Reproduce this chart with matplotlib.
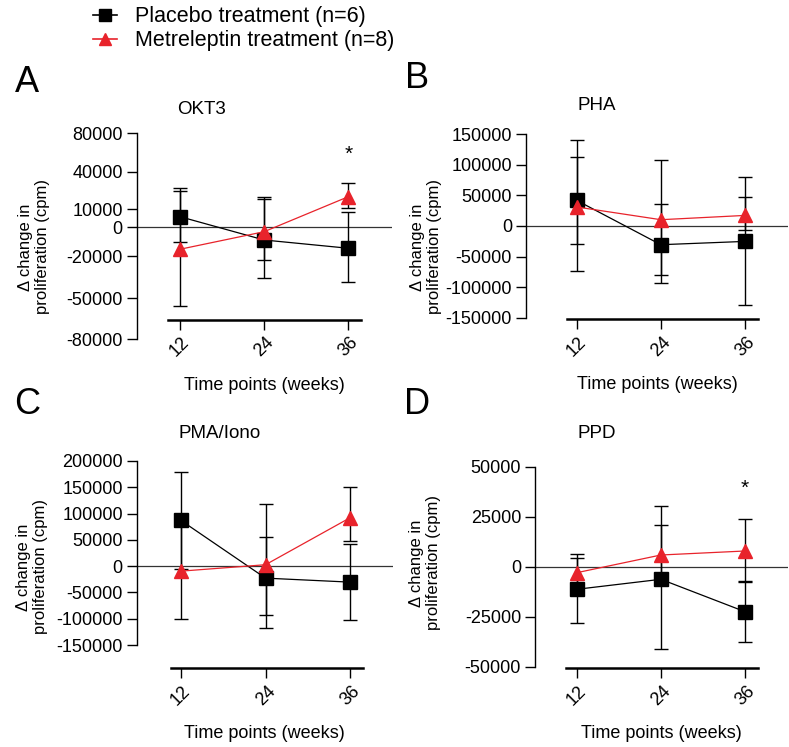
import numpy as np
import matplotlib
matplotlib.use('Agg')
import matplotlib.pyplot as plt
from matplotlib.lines import Line2D

plt.rcParams['font.family'] = ['Liberation Sans', 'DejaVu Sans']

W, H = 789, 747
RED = '#e8232b'

weeks = [12, 24, 36]

# A: OKT3
okt3_placebo = [5900, -8850, -14600]
okt3_placebo_lo = [-10000, -35800, -38200]
okt3_placebo_hi = [27200, 18200, 8700]
okt3_metre = [-15300, -3070, 20050]
okt3_metre_lo = [-55600, -22840, 10800]
okt3_metre_hi = [24600, 20050, 30700]
okt3_ticks = [-80000, -50000, -20000, 0, 10000, 40000, 80000]

# B: PHA
pha_placebo = [41900, -30600, -25200]
pha_placebo_lo = [-29000, -93300, -128800]
pha_placebo_hi = [112900, 35300, 80200]
pha_metre = [31100, 10300, 17300]
pha_metre_lo = [-74300, -80800, -7200]
pha_metre_hi = [140000, 107300, 47400]
pha_ticks = [-150000, -100000, -50000, 0, 50000, 100000, 150000]

# C: PMA/Iono
pma_placebo = [86900, -22800, -30400]
pma_placebo_lo = [-5100, -93800, -103300]
pma_placebo_hi = [178800, 55200, 41300]
pma_metre = [-9500, 2700, 92000]
pma_metre_lo = [-101400, -117900, 47500]
pma_metre_hi = [82400, 117300, 150300]
pma_ticks = [-150000, -100000, -50000, 0, 50000, 100000, 150000, 200000]

# D: PPD
ppd_placebo = [-11300, -6300, -22500]
ppd_placebo_lo = [-28000, -41300, -37500]
ppd_placebo_hi = [4500, 30300, -7000]
ppd_metre = [-3000, 5850, 7850]
ppd_metre_lo = [-12000, -9000, -7500]
ppd_metre_hi = [6200, 20700, 23700]
ppd_ticks = [-50000, -25000, 0, 25000, 50000]

# OKT3 axis in the original is segmented: tick values vs. their pixel offset from 0
okt3_tick_px = [-112.0, -71.0, -28.7, 0.0, 18.0, 55.6, 94.0]

fig = plt.figure(figsize=(W / 100, H / 100), dpi=100)


def make_axes(left, top, right, bottom):
    return fig.add_axes([left / W, 1 - bottom / H, (right - left) / W, (bottom - top) / H])


def draw_panel(ax, placebo, p_lo, p_hi, metre, m_lo, m_hi, ticks,
               xlim, xbounds, line_frac, star=None):
    for side in ['top', 'right']:
        ax.spines[side].set_visible(False)
    ax.spines['left'].set_linewidth(1.0)
    ax.spines['bottom'].set_linewidth(1.8)
    ax.spines['bottom'].set_position(('axes', line_frac))
    ax.spines['bottom'].set_bounds(*xbounds)
    ax.set_facecolor('none')

    ax.axhline(0, color='#333333', lw=0.9, zorder=1)

    p = np.array(placebo, float)
    m = np.array(metre, float)
    ax.errorbar(weeks, p, yerr=[p - np.array(p_lo), np.array(p_hi) - p], fmt='none',
                ecolor='black', elinewidth=1.0, capsize=5, capthick=1.0, zorder=2)
    ax.errorbar(weeks, m, yerr=[m - np.array(m_lo), np.array(m_hi) - m], fmt='none',
                ecolor='black', elinewidth=1.0, capsize=5, capthick=1.0, zorder=2)
    ax.plot(weeks, p, '-s', color='black', ms=9.5, lw=0.9, zorder=3)
    ax.plot(weeks, m, '-^', color=RED, mfc=RED, mec=RED, ms=10, lw=0.9, zorder=4)

    ax.set_xlim(*xlim)
    ax.set_ylim(ticks[0], ticks[-1])
    ax.set_yticks(ticks)
    ax.set_yticklabels([str(t) for t in ticks])
    ax.set_xticks(weeks)
    ax.set_xticklabels([str(w) for w in weeks], rotation=45, ha='center', va='top')
    ax.tick_params(axis='y', length=7, width=1.0, labelsize=13, pad=3)
    ax.tick_params(axis='x', length=7, width=1.0, labelsize=13, pad=3)
    ax.set_xlabel('Time points (weeks)', fontsize=13, labelpad=12)
    if star is not None:
        ax.text(36, star, '*', ha='center', va='center', fontsize=15)


def seg_fwd(v):
    return np.interp(v, okt3_ticks, okt3_tick_px)


def seg_inv(d):
    return np.interp(d, okt3_tick_px, okt3_ticks)


# panel A
axA = make_axes(136.7, 133.3, 392, 339.3)
axA.set_yscale('function', functions=(seg_fwd, seg_inv))
draw_panel(axA, okt3_placebo, okt3_placebo_lo, okt3_placebo_hi,
           okt3_metre, okt3_metre_lo, okt3_metre_hi, okt3_ticks,
           (5.83, 42.23), (10.29, 37.8), 19.3 / 206.0, star=58000)

# panel B
axB = make_axes(526, 134.3, 788, 317.7)
draw_panel(axB, pha_placebo, pha_placebo_lo, pha_placebo_hi,
           pha_metre, pha_metre_lo, pha_metre_hi, pha_ticks,
           (4.77, 42.13), (10.57, 37.9), -1.6 / 183.4)

# panel C
axC = make_axes(136.7, 461, 393, 645)
draw_panel(axC, pma_placebo, pma_placebo_lo, pma_placebo_hi,
           pma_metre, pma_metre_lo, pma_metre_hi, pma_ticks,
           (5.71, 42.1), (10.54, 37.8), -23.3 / 184.0)

# panel D
axD = make_axes(535, 466.7, 788, 666.7)
draw_panel(axD, ppd_placebo, ppd_placebo_lo, ppd_placebo_hi,
           ppd_metre, ppd_metre_lo, ppd_metre_hi, ppd_ticks,
           (6.05, 42.13), (10.47, 37.8), -1.6 / 200.0, star=39000)

# panel titles
for title, (x, y) in zip(['OKT3', 'PHA', 'PMA/Iono', 'PPD'],
                         [(202, 110), (597, 105), (220, 433), (597, 433)]):
    fig.text(x / W, 1 - y / H, title, ha='center', va='center', fontsize=13.5)

# y labels
ylab = '\u0394 change in\nproliferation (cpm)'
for (x, y) in [(34, 247), (426, 247), (32, 567), (425, 563)]:
    fig.text(x / W, 1 - y / H, ylab, rotation=90, ha='center', va='center',
             fontsize=12, multialignment='center', linespacing=1.15)

# panel letters
for letter, (x, y) in zip('ABCD', [(26.5, 82.5), (417, 78.5), (27.5, 405), (417, 405)]):
    fig.text(x / W, 1 - y / H, letter, ha='center', va='center', fontsize=26)

# legend
handles = [Line2D([], [], color='black', marker='s', ms=8, lw=1.2),
           Line2D([], [], color=RED, marker='^', ms=8.5, lw=1.2)]
fig.legend(handles, ['Placebo treatment (n=6)', 'Metreleptin treatment (n=8)'],
           loc='upper left', bbox_to_anchor=(78 / W, 1 + 9 / H), frameon=False,
           fontsize=15.5, handlelength=1.1, handletextpad=0.85, labelspacing=0.15,
           borderpad=0.2)

fig.savefig('out.png', dpi=100)
